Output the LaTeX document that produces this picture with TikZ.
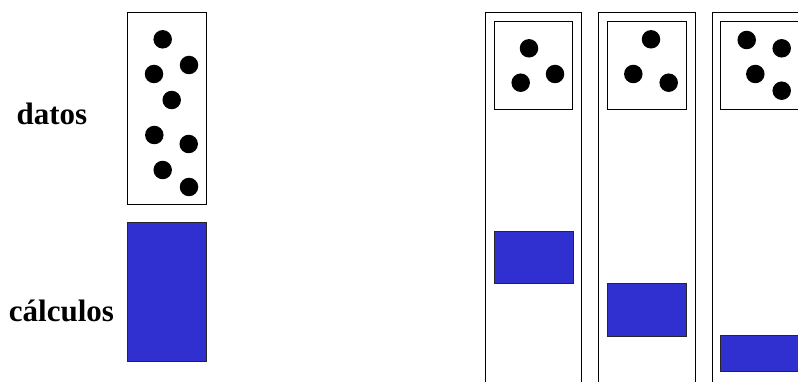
\documentclass[tikz,border=0pt]{standalone}
\usepackage{fontspec}
\setmainfont{Liberation Serif}
\definecolor{procblue}{RGB}{48,48,208}
\tikzset{
  box/.style={draw=black, line width=0.9pt},
  calc/.style={draw=black!85, line width=0.9pt, fill=procblue},
  dot/.style={circle, fill=black, inner sep=0pt, minimum size=18.5pt},
  lbl/.style={font=\bfseries\fontsize{31}{33}\selectfont, anchor=base, inner sep=0pt}
}
\begin{document}
\begin{tikzpicture}[x=1pt,y=-1pt]
\useasboundingbox (0,0) rectangle (798,382);
\clip (0,0) rectangle (798,382);
% left: labels
\node[lbl] (datos) at (52,125) {datos};
\node[lbl] (calculos) at (61.5,321.7) {cálculos};
% left data box
\draw[box] (127.3,12.7) rectangle (206.3,204.7);
\foreach \x/\y [count=\i] in {162.7/39.3, 189/65, 154/74, 171.7/100, 154.3/135, 188.7/144, 162.7/170, 189/187}
  \node[dot] (ld\i) at (\x,\y) {};
% left calc block
\draw[calc] (127.3,222.3) rectangle (206.3,361.7);
% right columns
\draw[box] (485.7,390) -- (485.7,12.7) -- (581.7,12.7) -- (581.7,390);
\draw[box] (598.7,390) -- (598.7,12.7) -- (695,12.7) -- (695,390);
\draw[box] (712.3,390) -- (712.3,12.7) -- (810,12.7);
% inner data boxes
\draw[box] (494,21.7) rectangle (572.7,109);
\draw[box] (607.3,21.7) rectangle (686,109);
\draw[box] (720.7,21.7) rectangle (810,109);
% dots
\foreach \x/\y [count=\i] in {529/48.3, 555/74, 520.7/82.7}
  \node[dot] (ad\i) at (\x,\y) {};
\foreach \x/\y [count=\i] in {651/39.3, 633.3/74, 668.7/82.7}
  \node[dot] (bd\i) at (\x,\y) {};
\foreach \x/\y [count=\i] in {746.7/40, 781.7/48.3, 755.3/74, 781.7/90.7}
  \node[dot] (cd\i) at (\x,\y) {};
% calc blocks
\draw[calc] (494,231.3) rectangle (573,283.7);
\draw[calc] (607.3,283.3) rectangle (686.3,336);
\draw[calc] (720.7,335.3) rectangle (810,371.3);
\end{tikzpicture}
\end{document}
